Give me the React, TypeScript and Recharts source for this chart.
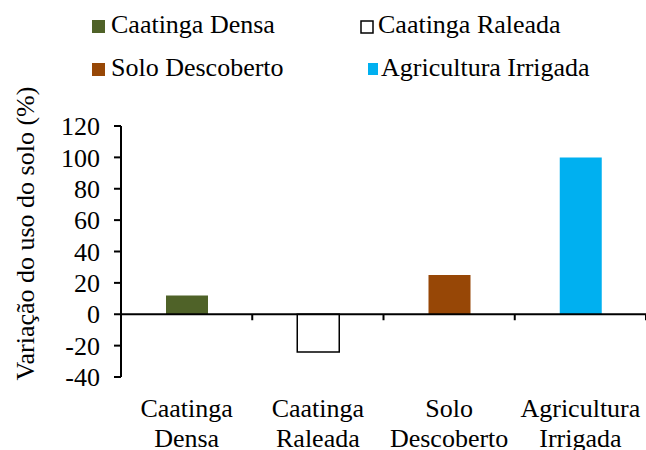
import React from "react";
import { BarChart, Bar, XAxis, YAxis, Cell, ReferenceLine, Legend } from "recharts";

const categories = ["Caatinga Densa", "Caatinga Raleada", "Solo Descoberto", "Agricultura Irrigada"];
const labelLines = [["Caatinga", "Densa"], ["Caatinga", "Raleada"], ["Solo", "Descoberto"], ["Agricultura", "Irrigada"]];
const values = [12, -24, 25, 100];
const fills = ["#4F6228", "#FFFFFF", "#974706", "#00B0F0"];
const strokes = ["none", "#000000", "none", "none"];
const yTicks = [-40, -20, 0, 20, 40, 60, 80, 100, 120];
const yLabel = "Variação do uso do solo (%)";

const data = categories.map((c, i) => ({ name: c, value: values[i] }));

const FONT = '"Liberation Serif", "Times New Roman", serif';
const FS = 26;
const LEGEND_H = 90;

const LegendContent = () => {
  const items = [
    { x: 92, y: 20, w: 13, h: 13, tx: 111, ty: 33 },
    { x: 361, y: 21, w: 12, h: 12, tx: 378, ty: 33 },
    { x: 92, y: 63, w: 13, h: 13, tx: 111, ty: 76 },
    { x: 368, y: 63, w: 10, h: 12, tx: 381, ty: 76 },
  ];
  return (
    <svg width={646} height={LEGEND_H} style={{ display: "block" }}>
      {categories.map((c, i) => (
        <g key={c}>
          <rect
            x={items[i].x}
            y={items[i].y}
            width={items[i].w}
            height={items[i].h}
            fill={fills[i]}
            stroke={strokes[i] === "none" ? "none" : "#000"}
            strokeWidth={1.5}
          />
          <text x={items[i].tx} y={items[i].ty} fontFamily={FONT} fontSize={FS} fill="#000">
            {c}
          </text>
        </g>
      ))}
    </svg>
  );
};

const XTick = (props: any) => {
  const { x, y, index } = props;
  const lines = labelLines[index] || [];
  return (
    <g>
      {lines.map((l: string, k: number) => (
        <text
          key={k}
          x={x}
          y={y + 40 + k * 30}
          textAnchor="middle"
          fontFamily={FONT}
          fontSize={FS}
          fill="#000"
        >
          {l}
        </text>
      ))}
    </g>
  );
};

const ZeroLine = (props: any) => {
  const { x1, y1, x2, y2 } = props;
  const n = categories.length;
  const step = (x2 - x1) / n;
  const ticks = [];
  for (let i = 0; i <= n; i++) ticks.push(x1 + i * step);
  return (
    <g>
      <line x1={x1} y1={y1} x2={x2} y2={y2} stroke="#000" strokeWidth={2} />
      {ticks.map((tx, i) => (
        <line key={i} x1={tx} y1={y1} x2={tx} y2={y1 + 6} stroke="#000" strokeWidth={2} />
      ))}
    </g>
  );
};

const YLabel = (props: any) => {
  const vb = props.viewBox || { x: 0, y: 0, width: 0, height: 0 };
  const cx = vb.x + 25;
  const cy = vb.y + vb.height / 2 - 18;
  return (
    <text
      x={cx}
      y={cy}
      transform={`rotate(-90, ${cx}, ${cy})`}
      textAnchor="middle"
      dominantBaseline="central"
      fontFamily={FONT}
      fontSize={FS}
      fill="#000"
    >
      {yLabel}
    </text>
  );
};

export default function App() {
  return (
    <div style={{ position: "absolute", left: 0, top: 0, width: 646, height: 450, background: "#fff" }}>
      <BarChart
        width={646}
        height={450}
        data={data}
        margin={{ top: 126 - LEGEND_H, right: 0, bottom: 0, left: 0 }}
        barSize={42}
      >
        <Legend
          verticalAlign="top"
          align="left"
          content={<LegendContent />}
          wrapperStyle={{ top: 0, left: 0, width: 646, height: LEGEND_H }}
        />
        <YAxis
          width={121}
          domain={[-40, 120]}
          ticks={yTicks}
          interval={0}
          axisLine={{ stroke: "#000", strokeWidth: 2 }}
          tickLine={{ stroke: "#000", strokeWidth: 2 }}
          tickSize={7}
          tickMargin={14}
          tick={{ fontFamily: FONT, fontSize: FS, fill: "#000" }}
          label={<YLabel />}
        />
        <XAxis
          dataKey="name"
          axisLine={false}
          tickLine={false}
          tickSize={0}
          tickMargin={0}
          interval={0}
          height={73}
          tick={<XTick />}
        />
        <Bar dataKey="value" isAnimationActive={false}>
          {data.map((d, i) => (
            <Cell key={d.name} fill={fills[i]} stroke={strokes[i]} strokeWidth={strokes[i] === "none" ? 0 : 1.5} />
          ))}
        </Bar>
        <ReferenceLine y={0} shape={<ZeroLine />} ifOverflow="visible" />
      </BarChart>
    </div>
  );
}
